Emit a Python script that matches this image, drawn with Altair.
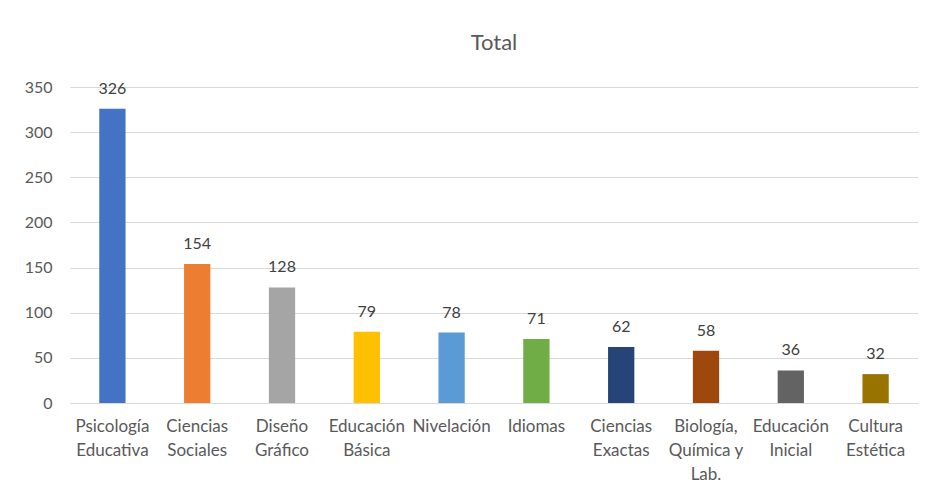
import altair as alt
import pandas as pd

categories = ["Psicología Educativa", "Ciencias Sociales", "Diseño Gráfico", "Educación Básica",
              "Nivelación", "Idiomas", "Ciencias Exactas", "Biología, Química y Lab.",
              "Educación Inicial", "Cultura Estética"]
label_lines = [["Psicología", "Educativa"], ["Ciencias", "Sociales"], ["Diseño", "Gráfico"],
               ["Educación", "Básica"], ["Nivelación"], ["Idiomas"], ["Ciencias", "Exactas"],
               ["Biología,", "Química y", "Lab."], ["Educación", "Inicial"], ["Cultura", "Estética"]]
values = [326, 154, 128, 79, 78, 71, 62, 58, 36, 32]
colors = ["#4472C4", "#ED7D31", "#A5A5A5", "#FFC000", "#5B9BD5",
          "#70AD47", "#264478", "#9E480E", "#636363", "#997300"]

df = pd.DataFrame({"cat": categories, "val": values})

FONT = "Lato, sans-serif"
TXT = "#595959"

mapping = ", ".join(
    "'" + c + "': [" + ", ".join("'" + l + "'" for l in lines) + "]"
    for c, lines in zip(categories, label_lines)
)
label_expr = "({" + mapping + "})[datum.label]"

x = alt.X("cat:N", sort=categories, title=None,
          scale=alt.Scale(paddingInner=0.69, paddingOuter=0.345),
          axis=alt.Axis(labelAngle=0, labelExpr=label_expr, ticks=False,
                        domainColor="#d9d9d9", labelColor=TXT, labelFont=FONT,
                        labelFontSize=17, labelLineHeight=24, labelPadding=15,
                        labelOverlap=False, labelBaseline="top", labelLimit=200))
y = alt.Y("val:Q", title=None,
          scale=alt.Scale(domain=[0, 350]),
          axis=alt.Axis(values=list(range(0, 351, 50)), domain=False, ticks=False,
                        gridColor="#d9d9d9", labelColor=TXT, labelFont=FONT,
                        labelFontSize=16, labelPadding=18, minExtent=57, maxExtent=57))

bars = alt.Chart(df).mark_bar().encode(
    x=x, y=y,
    color=alt.Color("cat:N", sort=categories,
                    scale=alt.Scale(domain=categories, range=colors), legend=None),
)
text = alt.Chart(df).mark_text(dy=-15, baseline="alphabetic", font=FONT, fontSize=16,
                               color="#404040").encode(
    x=alt.X("cat:N", sort=categories), y="val:Q", text="val:Q")

chart = (bars + text).properties(
    width=848, height=316,
    title=alt.TitleParams("Total", fontSize=22, font=FONT, color=TXT, fontWeight="normal",
                          offset=24),
    padding={"top": 24, "left": 5, "right": 5, "bottom": 5},
).configure_view(stroke=None)

chart.save("out.html", embed_options={"renderer": "svg", "actions": False})
